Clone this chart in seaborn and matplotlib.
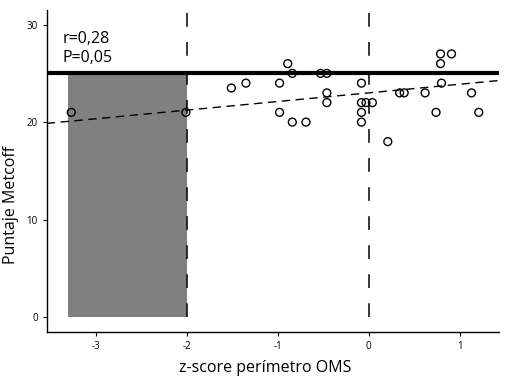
import numpy as np
import pandas as pd
import matplotlib
matplotlib.use('Agg')
import matplotlib.pyplot as plt
import seaborn as sns
from matplotlib.patches import Rectangle

# ── Datos ──
z_score = [-3.27, -2.01, -1.51, -1.35,
           -0.89, -0.84, -0.98, -0.98, -0.84, -0.69,
           -0.53, -0.46, -0.46, -0.46,
           -0.08, -0.08, -0.03, 0.04, -0.08, -0.08,
           0.21, 0.34, 0.39, 0.62,
           0.79, 0.91, 0.79, 0.80, 0.74, 1.13, 1.21]
metcoff = [21, 21, 23.5, 24,
           26, 25, 24, 21, 20, 20,
           25, 25, 23, 22,
           24, 22, 22, 22, 21, 20,
           18, 23, 23, 23,
           27, 27, 26, 24, 21, 23, 21]

# recta de regresión (r=0,28)
reg_intercept = 23.0
reg_slope = 0.885

umbral_metcoff = 25
cortes_z = [-2, 0]
zona_x = [-3.31, -2]

x_ticks = [-3, -2, -1, 0, 1]
y_ticks = [0, 10, 20, 30]

df = pd.DataFrame({'z': z_score, 'metcoff': metcoff})

sns.set_style('ticks')
plt.rcParams['font.family'] = ['Open Sans', 'DejaVu Sans']
plt.rcParams['axes.unicode_minus'] = False
plt.rcParams['text.color'] = 'black'
plt.rcParams['axes.labelcolor'] = 'black'
plt.rcParams['xtick.color'] = 'black'
plt.rcParams['ytick.color'] = 'black'

fig = plt.figure(figsize=(5.1, 3.78), dpi=100)
ax = fig.add_axes([0.0916, 0.1225, 0.8864, 0.851])

# zona gris
ax.add_patch(Rectangle((zona_x[0], 0), zona_x[1] - zona_x[0], umbral_metcoff,
                       facecolor='#808080', edgecolor='none', zorder=1))

# líneas verticales discontinuas
for xc in cortes_z:
    ax.plot([xc, xc], [0, 40], color='black', lw=1.1,
            linestyle=(0, (9, 10)), zorder=2)

# línea horizontal gruesa
ax.axhline(umbral_metcoff, color='black', lw=3, zorder=3)

# recta de regresión
ax.axline((0, reg_intercept), slope=reg_slope, color='black', lw=1,
          linestyle=(0, (6, 4)), zorder=3)

sns.scatterplot(data=df, x='z', y='metcoff', ax=ax, marker='o', s=32,
                facecolors='none', edgecolors='black', linewidth=1, zorder=4)

ax.text(-3.37, 28.55, 'r=0,28', fontsize=11.5, va='center', ha='left')
ax.text(-3.37, 26.6, 'P=0,05', fontsize=11.5, va='center', ha='left')

ax.set_xlim(-3.54, 1.43)
ax.set_ylim(-1.5, 31.5)
ax.set_xticks(x_ticks)
ax.set_yticks(y_ticks)
ax.tick_params(labelsize=7, length=3, width=0.8)
ax.set_xlabel('z-score perímetro OMS', fontsize=11.5, labelpad=6)
ax.set_ylabel('Puntaje Metcoff', fontsize=11.5, labelpad=5)
ax.xaxis.label.set_x(0.483)
ax.yaxis.label.set_y(0.394)
sns.despine(ax=ax)
for s in ['left', 'bottom']:
    ax.spines[s].set_linewidth(1)
    ax.spines[s].set_color('black')

fig.savefig('out.png', dpi=100)
